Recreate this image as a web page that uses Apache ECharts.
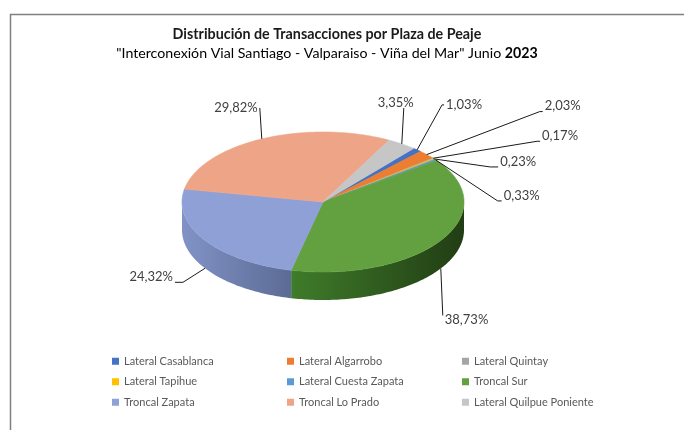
<!DOCTYPE html>
<html>
<head>
<meta charset="utf-8">
<script src="https://cdn.jsdelivr.net/npm/echarts@6/dist/echarts.min.js"></script>
<style>
  html, body { margin: 0; padding: 0; background: #fff; }
  #chart { width: 684px; height: 430px; }
</style>
</head>
<body>
<div id="chart"></div>
<script>
// datos: % de transacciones por plaza, junio 2023
const plazas = ['Lateral Casablanca', 'Lateral Algarrobo', 'Lateral Quintay', 'Lateral Tapihue',
  'Lateral Cuesta Zapata', 'Troncal Sur', 'Troncal Zapata', 'Troncal Lo Prado', 'Lateral Quilpue Poniente']
const porcentajes = [1.03, 2.03, 0.17, 0.23, 0.33, 38.73, 24.32, 29.82, 3.35]

const colores = ['#4472c4', '#ed7d31', '#a5a5a5', '#ffc000', '#5b9bd5', '#62a040', '#8ea0d6', '#eea486', '#c6c6c6']
// color del costado (claro -> oscuro)
const costados = [
  ['#3a62a8', '#24406e'], ['#c9662a', '#8a431b'], ['#8c8c8c', '#5c5c5c'], ['#d9a300', '#8f6b00'],
  ['#4d84b5', '#325777'], ['#3f7c2a', '#213d14'], ['#8193c6', '#5c6b95'], ['#c98b71', '#8a5f4d'], ['#a8a8a8', '#6e6e6e']
]

// etiquetas: [dx, dy] hasta el codo, cola horizontal, alineacion del texto
const etiquetas = [
  { d: [25, -45], cola: 2, align: 'left', va: 'middle' },
  { d: [113, -43], cola: 3, align: 'left', va: 'bottom' },
  { d: [104, -17], cola: 3, align: 'left', va: 'bottom' },
  { d: [56, 8], cola: 8, align: 'left', va: 'bottom' },
  { d: [62, 41], cola: 4, align: 'left', va: 'bottom' },
  { d: [2, 47], cola: 0, align: 'left', va: 'top' },
  { d: [-22, 14], cola: -8, align: 'right', va: 'bottom' },
  { d: [-2, -31], cola: 0, align: 'right', va: 'middle' },
  { d: [2, -36], cola: 0, align: 'center', va: 'bottom' }
]

const FONT = 'Lato, "Open Sans", sans-serif'
const INICIO = 40 // grados, desde arriba en sentido horario
const CX = 323
const CY = 202
const RX = 141
const RY = 70
const ALTO = 28

const total = porcentajes.reduce((a, b) => a + b, 0)

function punto (ang, dy) {
  const r = ang * Math.PI / 180
  return [CX + RX * Math.sin(r), CY - RY * Math.cos(r) + (dy || 0)]
}

function arco (a0, a1, dy) {
  const pts = []
  const n = Math.max(2, Math.ceil(Math.abs(a1 - a0)))
  for (let k = 0; k <= n; k++) {
    pts.push(punto(a0 + (a1 - a0) * k / n, dy))
  }
  return pts
}

function tajada (i) {
  return {
    name: plazas[i],
    type: 'custom',
    coordinateSystem: 'none',
    silent: true,
    itemStyle: { color: colores[i] },
    data: [[porcentajes[i]]],
    renderItem: function (params, api) {
      const antes = porcentajes.slice(0, i).reduce((a, b) => a + b, 0)
      const a0 = INICIO + antes / total * 360
      const a1 = a0 + api.value(0) / total * 360
      const medio = (a0 + a1) / 2
      const hijos = []

      // cara superior
      hijos.push({
        type: 'polygon',
        z2: 10,
        shape: { points: [[CX, CY]].concat(arco(a0, a1)) },
        style: { fill: colores[i], stroke: colores[i], lineWidth: 0.6 }
      })

      // costado visible (mitad delantera, 90..270)
      const b0 = Math.max(a0, 90)
      const b1 = Math.min(a1, 270)
      if (b1 > b0) {
        const arriba = arco(b0, b1)
        const abajo = arco(b1, b0, ALTO)
        hijos.push({
          type: 'polygon',
          z2: 1,
          shape: { points: arriba.concat(abajo) },
          style: {
            fill: new echarts.graphic.LinearGradient(0, 0, 1, 0, [
              { offset: 0, color: costados[i][0] },
              { offset: 1, color: costados[i][1] }
            ])
          }
        })
      }

      // etiqueta con linea guia
      const m = ((medio % 360) + 360) % 360
      const ancla = punto(medio, (m > 90 && m < 270) ? ALTO : 0)
      const e = etiquetas[i]
      const codo = [ancla[0] + e.d[0], ancla[1] + e.d[1]]
      const fin = [codo[0] + e.cola, codo[1]]
      hijos.push({
        type: 'polyline',
        z2: 20,
        shape: { points: [ancla, codo, fin] },
        style: { stroke: '#1a1a1a', lineWidth: 1, fill: null }
      })
      let tx = fin[0] + (e.align === 'left' ? 2 : e.align === 'right' ? -2 : -8)
      let ty = fin[1] + (e.va === 'bottom' ? 1 : e.va === 'top' ? -2 : 0)
      hijos.push({
        type: 'text',
        z2: 20,
        x: tx,
        y: ty,
        style: {
          text: porcentajes[i].toFixed(2).replace('.', ',') + '%',
          fill: '#404040',
          fontFamily: FONT,
          fontSize: 13,
          align: e.align,
          verticalAlign: e.va
        }
      })
      return { type: 'group', children: hijos }
    }
  }
}

const chart = echarts.init(document.getElementById('chart'))
const option = {
  animation: false,
  color: colores,
  title: [
    {
      text: 'Distribución de Transacciones por Plaza de Peaje',
      left: 322,
      top: 22,
      textAlign: 'center',
      textStyle: { fontFamily: FONT, fontSize: 14.3, fontWeight: 'bold', color: '#1a1a1a' }
    },
    {
      text: '{a|"Interconexión Vial Santiago - Valparaiso - Viña del Mar" Junio }{b|2023}',
      left: 322,
      top: 41,
      textAlign: 'center',
      textStyle: {
        rich: {
          a: { fontFamily: FONT, fontSize: 14.2, fontWeight: 'normal', color: '#000' },
          b: { fontFamily: FONT, fontSize: 14.2, fontWeight: 'bold', color: '#000' }
        }
      }
    }
  ],
  legend: {
    left: 107,
    top: 349,
    width: 540,
    icon: 'rect',
    itemWidth: 7,
    itemHeight: 7,
    itemGap: 6,
    selectedMode: false,
    textStyle: { fontFamily: FONT, fontSize: 11, color: '#595959', width: 157, lineHeight: 14.5 },
    data: plazas
  },
  graphic: [
    {
      type: 'polyline',
      silent: true,
      shape: { points: [[684, 14.5], [10.5, 14.5], [10.5, 430]] },
      style: { stroke: '#7f7f7f', lineWidth: 1.5, fill: null }
    }
  ],
  series: plazas.map((p, i) => tajada(i))
}
chart.setOption(option)
</script>
</body>
</html>
